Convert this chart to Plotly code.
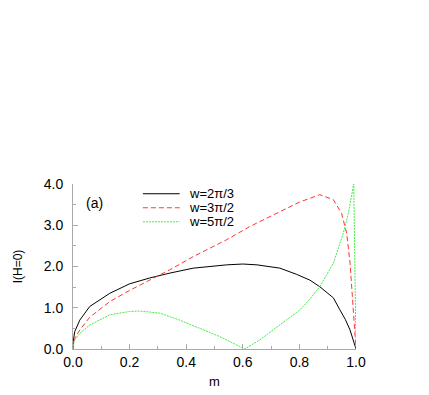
import plotly.graph_objects as go

# w = 2pi/3
m_black = [0, 0.001, 0.006, 0.024, 0.059, 0.13, 0.2, 0.27, 0.342, 0.425, 0.543, 0.6,
           0.65, 0.696, 0.731, 0.79, 0.837, 0.872, 0.92, 0.943, 0.962, 0.979, 0.99, 0.996, 1.0]
i_black = [0, 0.18, 0.42, 0.70, 1.03, 1.35, 1.58, 1.72, 1.84, 1.96, 2.04, 2.06,
           2.04, 2.0, 1.96, 1.81, 1.67, 1.51, 1.24, 0.95, 0.72, 0.46, 0.24, 0.1, 0]

# w = 3pi/2
m_red = [0, 0.001, 0.006, 0.024, 0.059, 0.13, 0.2, 0.27, 0.342, 0.425, 0.543, 0.625,
         0.731, 0.8, 0.872, 0.92, 0.949, 0.967, 0.979, 0.988, 0.997, 1.0]
i_red = [0, 0.12, 0.26, 0.46, 0.77, 1.15, 1.42, 1.67, 1.92, 2.24, 2.65, 2.97,
         3.33, 3.56, 3.74, 3.62, 3.29, 2.81, 2.08, 1.27, 0.46, 0]

# w = 5pi/2
m_green = [0, 0.001, 0.006, 0.024, 0.059, 0.13, 0.2, 0.236, 0.307, 0.377, 0.448, 0.519,
           0.578, 0.607, 0.66, 0.696, 0.731, 0.766, 0.802, 0.837, 0.872, 0.92, 0.955,
           0.973, 0.985, 0.992, 1.0]
i_green = [0, 0.1, 0.22, 0.38, 0.58, 0.83, 0.91, 0.92, 0.87, 0.70, 0.50, 0.30,
           0.10, 0, 0.22, 0.40, 0.58, 0.77, 0.95, 1.21, 1.51, 2.08, 2.81,
           3.29, 3.70, 4.0, 0]

names = ["w=2\u03c0/3", "w=3\u03c0/2", "w=5\u03c0/2"]
colors = ["black", "#ff3333", "#44ee44"]
dashes = ["solid", "5px,3px", "2px,1px"]

series = [(m_black, i_black), (m_red, i_red), (m_green, i_green)]

fig = go.Figure()
for (mx, iy), nm, c, d in zip(series, names, colors, dashes):
    fig.add_trace(go.Scatter(x=mx, y=iy, mode="lines", name=nm, showlegend=False,
                             line=dict(color=c, width=1, dash=d)))

# hand-made legend, tighter rows than plotly's own
row_y = [0.941, 0.856, 0.771]
for nm, c, d, ry in zip(names, colors, dashes, row_y):
    fig.add_shape(type="line", xref="paper", yref="paper", x0=0.247, x1=0.377,
                  y0=ry, y1=ry, line=dict(color=c, width=1, dash=d))
    fig.add_annotation(xref="paper", yref="paper", x=0.405, y=ry, text=nm,
                       showarrow=False, xanchor="left", yanchor="middle",
                       font=dict(size=13), borderpad=0)

fig.add_annotation(x=0.077, y=3.54, text="(a)", showarrow=False, font=dict(size=14))

axis_common = dict(showline=True, linecolor="#aaaaaa", linewidth=1, showgrid=False,
                   zeroline=False, ticks="inside", ticklen=5, tickcolor="#aaaaaa",
                   tickformat=".1f", tickfont=dict(size=14), automargin=False)

fig.update_xaxes(range=[0, 1], dtick=0.2, tick0=0,
                 title=dict(text="m", standoff=8, font=dict(size=13)),
                 minor=dict(ticks="inside", dtick=0.1, ticklen=3, tickcolor="#aaaaaa"),
                 **axis_common)
fig.update_yaxes(range=[0, 4], dtick=1, tick0=0, ticklabelstandoff=6,
                 title=dict(text="I(H=0)", standoff=18, font=dict(size=12)),
                 minor=dict(ticks="inside", dtick=0.5, ticklen=3, tickcolor="#aaaaaa"),
                 **axis_common)

# page body adds an 8px offset, so the figure is sized to fit inside the window
fig.update_layout(width=421, height=387, margin=dict(l=65, r=73, t=176, b=46),
                  plot_bgcolor="white", paper_bgcolor="white",
                  font=dict(family="Liberation Sans, Arial, sans-serif", color="black", size=14))

fig.write_html("out.html")
